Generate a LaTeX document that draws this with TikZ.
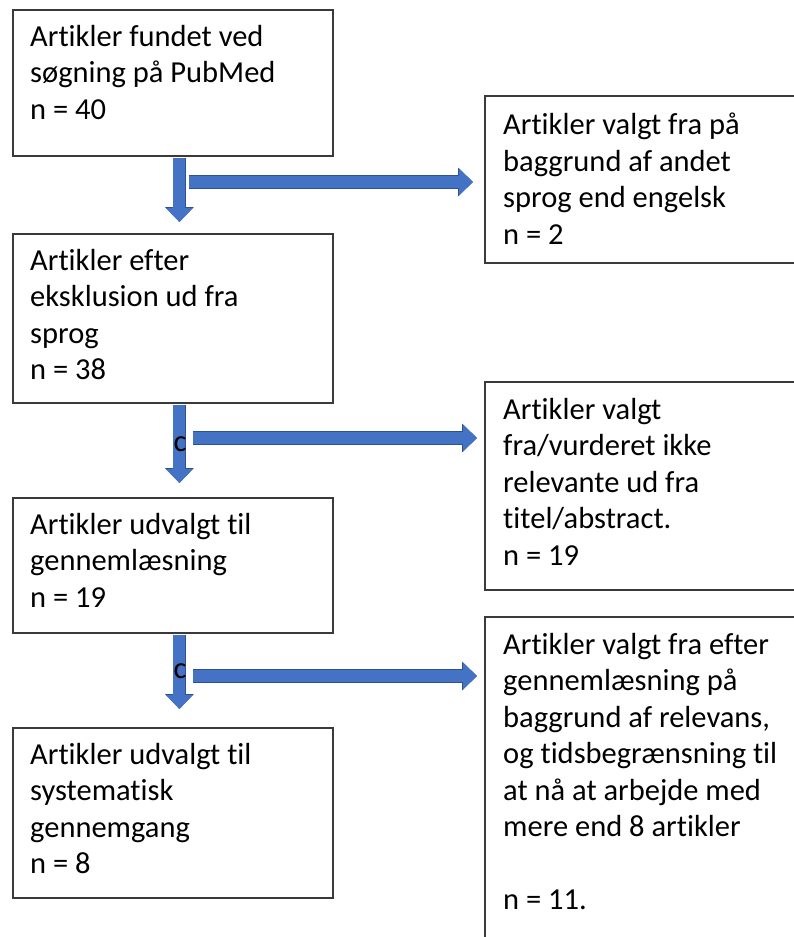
\documentclass[tikz,border=0pt]{standalone}
\usepackage{fontspec}
\setmainfont{Carlito}[Ligatures=NoCommon]
\usepackage{xcolor}
\usetikzlibrary{arrows.meta,positioning,calc}

\definecolor{boxline}{HTML}{3A3A3A}
\definecolor{arrowfill}{HTML}{4472C4}
\definecolor{arrowedge}{HTML}{2F528F}

\begin{document}
\begin{tikzpicture}[x=1pt, y=-1pt,
    every node/.style={font=\fontsize{30.5}{36.5}\selectfont},
    flowbox/.style={draw=boxline, line width=1.8pt, anchor=north west, inner sep=0pt},
    boxtext/.style={anchor=north west, align=left, inner sep=0pt, execute at begin node=\strut},
    blockarrow/.style={line width=12pt, draw=arrowfill, -{Triangle[width=26pt,length=14pt]},
        preaction={draw=arrowedge, line width=13.4pt, -{Triangle[width=28pt,length=15pt]}}}]
        \useasboundingbox (0,0) rectangle (794,937);
        \clip (0,0) rectangle (794,937);
        \fill[white] (0,0) rectangle (794,937);
        % Left column
        \node[flowbox, minimum width=320pt, minimum height=146pt] (search) at (12,9) {};
        \node[flowbox, minimum width=320pt, minimum height=169pt] (lang) at (12,233) {};
        \node[flowbox, minimum width=320pt, minimum height=135pt] (read) at (12,497) {};
        \node[flowbox, minimum width=320pt, minimum height=170pt] (final) at (12,727) {};
        % Right column (runs off the page)
        \node[flowbox, minimum width=330pt, minimum height=167pt] (outlang) at (484,95) {};
        \node[flowbox, minimum width=330pt, minimum height=208pt] (outtitle) at (484,381) {};
        \node[flowbox, minimum width=330pt, minimum height=340pt] (outread) at (484,616) {};
        % Texts
        \node[boxtext] (search-t) at ([shift={(18pt,-16pt)}]search.north west) {Artikler fundet ved\\søgning på PubMed\\n = 40};
        \node[boxtext] (lang-t) at ([shift={(18pt,-16pt)}]lang.north west) {Artikler efter\\eksklusion ud fra\\sprog\\n = 38};
        \node[boxtext] (read-t) at ([shift={(18pt,-16pt)}]read.north west) {Artikler udvalgt til\\gennemlæsning\\n = 19};
        \node[boxtext] (final-t) at ([shift={(18pt,-16pt)}]final.north west) {Artikler udvalgt til\\systematisk\\gennemgang\\n = 8};
        \node[boxtext] (outlang-t) at ([shift={(19pt,-18pt)}]outlang.north west) {Artikler valgt fra på\\baggrund af andet\\sprog end engelsk\\n = 2};
        \node[boxtext] (outtitle-t) at ([shift={(19pt,-17pt)}]outtitle.north west) {Artikler valgt\\fra/vurderet ikke\\relevante ud fra\\titel/abstract.\\n = 19};
        \node[boxtext] (outread-t) at ([shift={(19pt,-17pt)}]outread.north west) {Artikler valgt fra efter\\gennemlæsning på\\baggrund af relevans,\\og tidsbegrænsning til\\at nå at arbejde med\\mere end 8 artikler\\\mbox{}\\n = 11.};
        % Down arrows
        \draw[blockarrow] ([xshift=6.5pt,yshift=-1pt]search.south) -- ([xshift=6.5pt,yshift=11pt]lang.north);
        \draw[blockarrow] ([xshift=6.5pt,yshift=-1pt]lang.south) -- ([xshift=6.5pt,yshift=14pt]read.north);
        \draw[blockarrow] ([xshift=6.5pt,yshift=-1pt]read.south) -- ([xshift=6.5pt,yshift=18pt]final.north);
        % Side arrows
        \coordinate (h1) at (189,182);
        \coordinate (h2) at (193,438);
        \coordinate (h3) at (193,676);
        \draw[blockarrow, shorten >=11pt] (h1) -- (h1 -| outlang.west);
        \draw[blockarrow, shorten >=7pt] (h2) -- (h2 -| outtitle.west);
        \draw[blockarrow, shorten >=7pt] (h3) -- (h3 -| outread.west);
        % Stray marks
        \node (c1) at (180,444) {c};
        \node (c2) at (180,671) {c};
    \end{tikzpicture}
\end{document}
